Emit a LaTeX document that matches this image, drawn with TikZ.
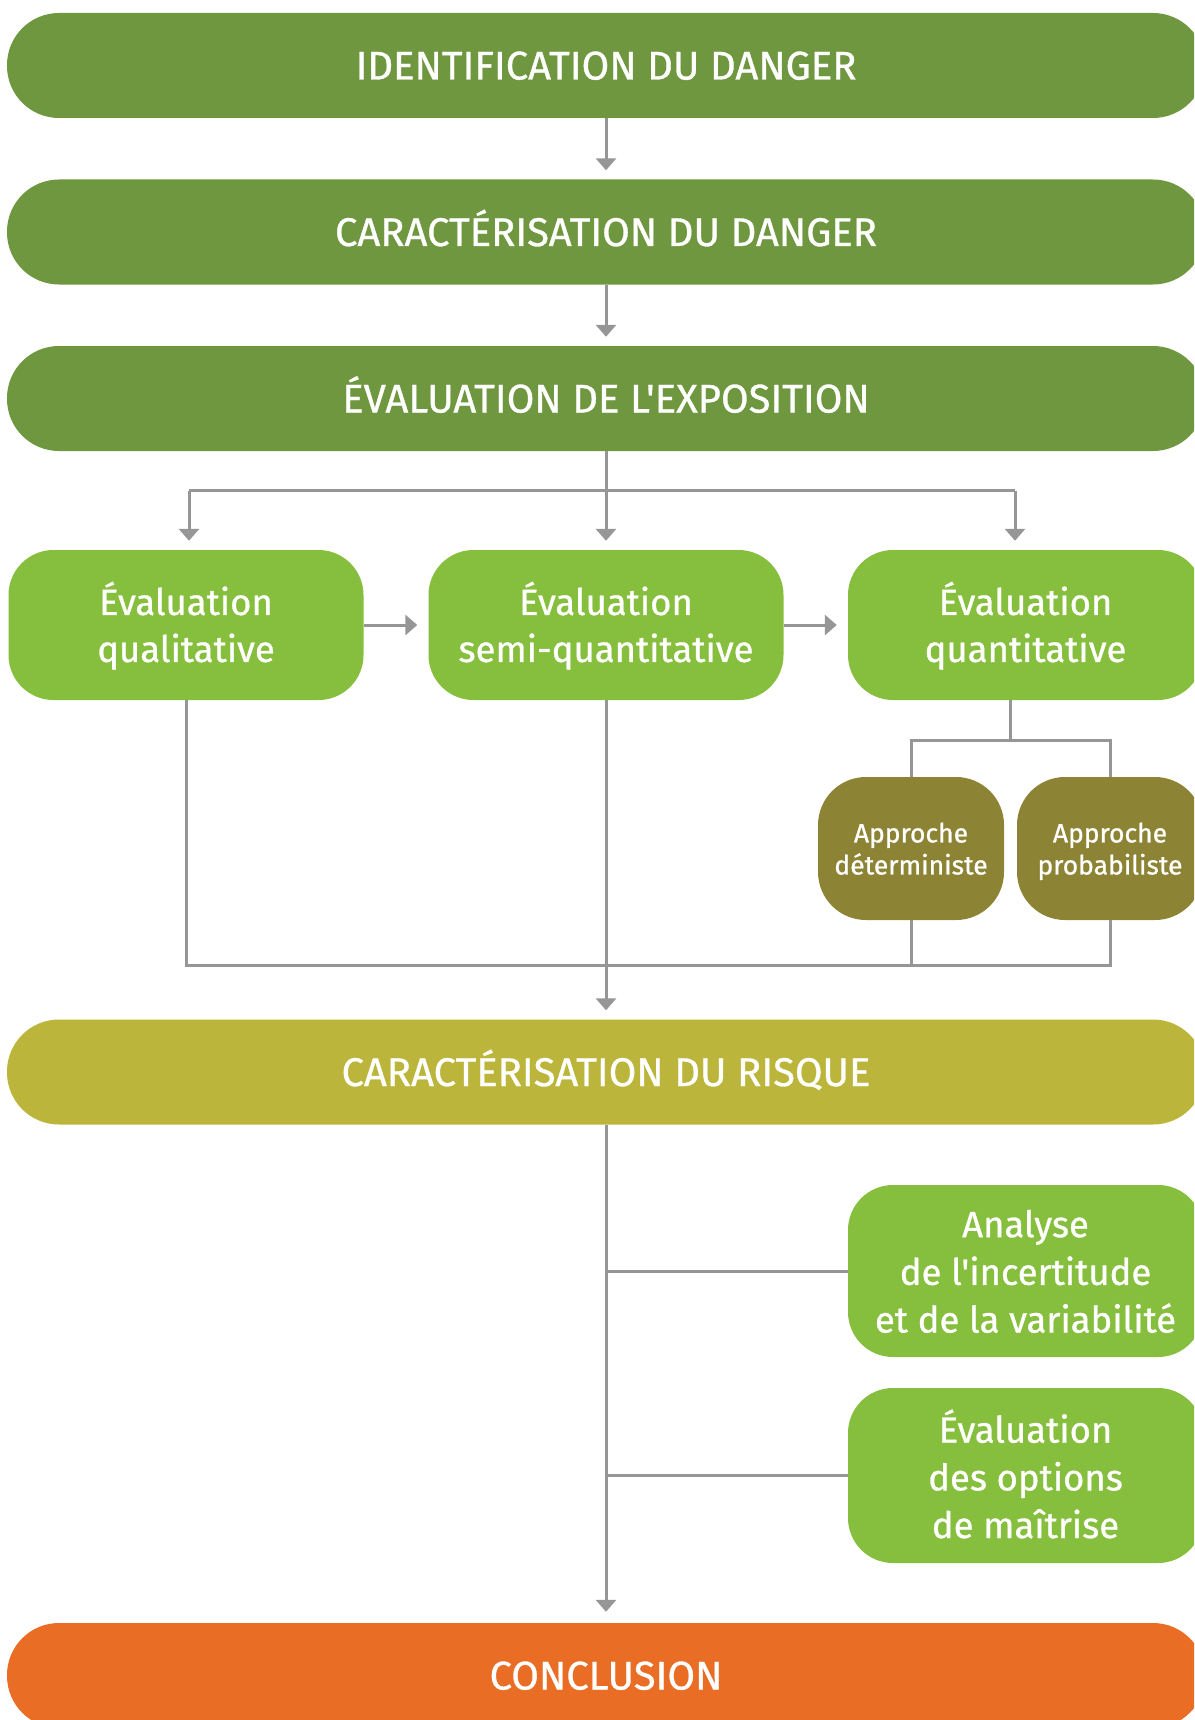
\documentclass[tikz,border=0pt]{standalone}
\usepackage{fontspec}
\setmainfont{Fira Sans}[Ligatures=TeXOff, FakeBold=0.8]
\usetikzlibrary{arrows.meta,calc}

\definecolor{stepgreen}{RGB}{111,151,63}
\definecolor{leafgreen}{RGB}{134,190,61}
\definecolor{olivebox}{RGB}{140,132,52}
\definecolor{mustard}{RGB}{188,181,60}
\definecolor{endorange}{RGB}{233,109,36}
\definecolor{linegray}{RGB}{150,150,150}

% invisible rule that sets the height of a first line
\newcommand\toppad[1]{\rule{0pt}{#1}}

\tikzset{
  banner/.style={fill=#1, text=white, rounded corners=52pt,
    minimum width=1198pt, minimum height=105pt, inner sep=0pt,
    text height=28pt, text depth=0pt,
    font=\fontsize{40}{48}\selectfont},
  methodbox/.style={fill=leafgreen, text=white, rounded corners=45pt,
    minimum width=355pt, minimum height=150pt, inner sep=0pt, align=center,
    font=\fontsize{36.5}{47}\selectfont},
  sidebox/.style={methodbox, minimum height=#1,
    font=\fontsize{36.5}{47.7}\selectfont},
  approachbox/.style={fill=olivebox, text=white, rounded corners=48pt,
    minimum width=186pt, minimum height=143pt, inner sep=0pt, align=center,
    font=\fontsize{26.5}{32}\selectfont},
  link/.style={draw=linegray, line width=3pt},
  flow/.style={link, -{Triangle[width=20pt,length=12pt]}},
}

\begin{document}
\begin{tikzpicture}[x=1pt,y=-1pt]
  \useasboundingbox (0,0) rectangle (1194,1720);
  \clip (0,0) rectangle (1194,1720);

  % main stages
  \node[banner=stepgreen] (ident) at (606,65.5) {IDENTIFICATION DU DANGER};
  \node[banner=stepgreen] (hazard) at (606,232) {CARACTÉRISATION DU DANGER};
  \node[banner=stepgreen] (expo) at (606,398.5) {ÉVALUATION DE L'EXPOSITION};
  \node[banner=mustard] (risk) at (606,1072) {CARACTÉRISATION DU RISQUE};
  \node[banner=endorange] (concl) at (606,1675.5) {CONCLUSION};

  % exposure assessment methods
  \node[methodbox] (qual) at (186,625) {\toppad{41pt}Évaluation\\qualitative\strut};
  \node[methodbox] (semi) at (606,625) {\toppad{41pt}Évaluation\\semi-quantitative\strut};
  \node[methodbox] (quant) at (1025.5,625) {\toppad{41pt}Évaluation\\quantitative\strut};

  \node[approachbox] (determ) at (911,848.5) {\toppad{29.5pt}Approche\\déterministe\strut};
  \node[approachbox] (proba) at (1110,848.5) {\toppad{29.5pt}Approche\\probabiliste\strut};

  % risk characterisation follow-ups
  \node[sidebox=172pt] (uncert) at (1025.5,1271) {\toppad{42pt}Analyse\\de l'incertitude\\et de la variabilité\strut};
  \node[sidebox=175pt] (options) at (1025.5,1475.5) {\toppad{44pt}Évaluation\\des options\\de maîtrise\strut};

  % junction points
  \coordinate (split) at (606,490.5);
  \coordinate (quantfork) at (1010.7,740.7);
  \coordinate (merge) at (606,965);

  % top chain
  \draw[flow, shorten >=9pt] (ident.south) -- (hazard.north);
  \draw[flow, shorten >=9pt] (hazard.south) -- (expo.north);

  % fan-out to the three methods
  \draw[link] (expo.south) -- (split);
  \draw[link] ([xshift=3pt]qual.north |- split) -- ([xshift=-10.5pt]quant.north |- split);
  \draw[flow, shorten >=9pt] ([xshift=3pt]qual.north |- split) -- ([xshift=3pt]qual.north);
  \draw[flow, shorten >=9pt] (split) -- (semi.north);
  \draw[flow, shorten >=9pt] ([xshift=-10.5pt]quant.north |- split) -- ([xshift=-10.5pt]quant.north);

  % method progression
  \draw[flow, shorten >=11pt] (qual.east) -- (semi.west);
  \draw[flow, shorten >=11pt] (semi.east) -- (quant.west);

  % quantitative split into approaches
  \draw[link] ([xshift=-14.8pt]quant.south) -- (quantfork);
  \draw[link] (determ.north) |- (quantfork) -| (proba.north);

  % merge towards risk characterisation
  \draw[link] (qual.south) |- (merge);
  \draw[link] (semi.south) -- (merge);
  \draw[link] (determ.south) |- (merge);
  \draw[link] (proba.south) |- (merge);
  \draw[flow, shorten >=9pt] (merge) -- (risk.north);

  % risk characterisation to conclusion
  \draw[flow, shorten >=11pt] (risk.south) -- (concl.north);
  \draw[link] (uncert.west) -- (uncert.west -| risk.south);
  \draw[link] (options.west) -- (options.west -| risk.south);
\end{tikzpicture}
\end{document}
